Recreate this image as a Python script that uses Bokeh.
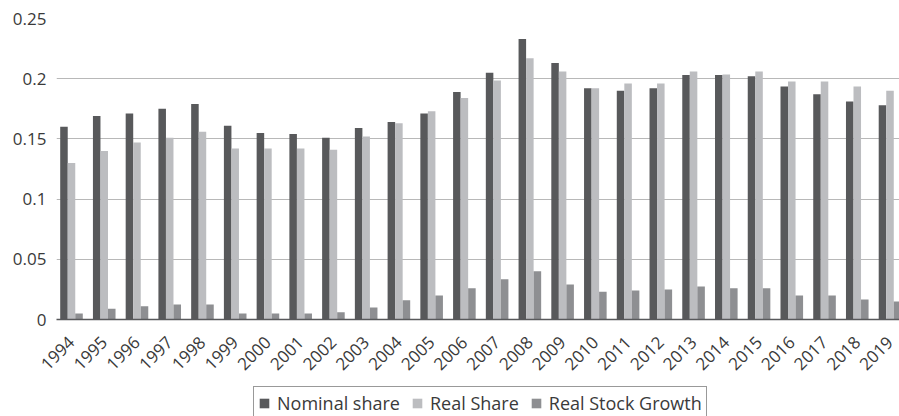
import math
from bokeh.plotting import figure
from bokeh.layouts import column
from bokeh.models import (ColumnDataSource, Range1d, FixedTicker, NumeralTickFormatter,
                          Legend, LegendItem)
from bokeh.transform import dodge
from bokeh.embed import file_html
from bokeh.resources import INLINE

years = [str(y) for y in range(1994, 2020)]
nominal_share = [0.160, 0.169, 0.171, 0.175, 0.179, 0.161, 0.155, 0.154, 0.151, 0.159,
                 0.164, 0.171, 0.189, 0.205, 0.233, 0.213, 0.192, 0.190, 0.192, 0.203,
                 0.203, 0.202, 0.1935, 0.187, 0.181, 0.178]
real_share = [0.130, 0.140, 0.147, 0.151, 0.156, 0.142, 0.142, 0.142, 0.141, 0.152,
              0.163, 0.173, 0.184, 0.1985, 0.217, 0.206, 0.192, 0.196, 0.196, 0.206,
              0.2035, 0.206, 0.1977, 0.1977, 0.1935, 0.190]
real_stock_growth = [0.005, 0.009, 0.011, 0.0125, 0.0125, 0.005, 0.005, 0.005, 0.006, 0.010,
                     0.016, 0.020, 0.026, 0.0335, 0.040, 0.029, 0.023, 0.024, 0.025, 0.0275,
                     0.026, 0.026, 0.020, 0.020, 0.0166, 0.015]
series_names = ["Nominal share", "Real Share", "Real Stock Growth"]
y_ticks = [0, 0.05, 0.1, 0.15, 0.2, 0.25]

FONT = "Open Sans"
TXT = "#3a3a3a"
COLORS = ["#58595b", "#bcbdc0", "#8e8f92"]
COLS = ["nom", "real", "grow"]

idx = list(range(len(years)))
src = ColumnDataSource(dict(x=idx, nom=nominal_share, real=real_share, grow=real_stock_growth))

p = figure(width=899, height=386, output_backend="svg", toolbar_location=None,
           x_range=Range1d(-0.458, 25.29), y_range=Range1d(0, 0.25),
           min_border_left=56, min_border_right=0, min_border_top=18, min_border_bottom=67)
p.outline_line_color = None
p.background_fill_color = "white"
p.border_fill_color = "white"

bw = 0.23
for col, off, c in zip(COLS, [-bw, 0, bw], COLORS):
    p.vbar(x=dodge("x", off, range=p.x_range), top=col, width=bw, source=src,
           fill_color=c, line_color=None)

# axes
p.xaxis.ticker = FixedTicker(ticks=idx)
p.xaxis.major_label_overrides = {i: y for i, y in zip(idx, years)}
p.xaxis.major_label_orientation = math.pi / 4
p.xaxis.major_tick_line_color = None
p.xaxis.major_tick_out = 0
p.xaxis.major_tick_in = 0
p.xaxis.minor_tick_line_color = None
p.xaxis.minor_tick_out = 0
p.xaxis.axis_line_color = COLORS[0]
p.xaxis.axis_line_width = 1.5
p.xaxis.major_label_text_font = FONT
p.xaxis.major_label_text_font_size = "17px"
p.xaxis.major_label_text_color = TXT
p.xaxis.major_label_standoff = 20

p.yaxis.ticker = FixedTicker(ticks=y_ticks)
p.yaxis.formatter = NumeralTickFormatter(format="0.[00]")
p.yaxis.axis_line_color = None
p.yaxis.major_tick_line_color = None
p.yaxis.major_tick_out = 0
p.yaxis.minor_tick_line_color = None
p.yaxis.major_label_text_font = FONT
p.yaxis.major_label_text_font_size = "17px"
p.yaxis.major_label_text_color = TXT
p.yaxis.major_label_standoff = 10

p.xgrid.grid_line_color = None
p.ygrid.ticker = FixedTicker(ticks=y_ticks)
p.ygrid.grid_line_color = "#b8b8b8"
p.ygrid.grid_line_width = 1

# legend strip below the chart (its bars lie far outside its visible range; only the legend shows)
pl = figure(width=899, height=30, output_backend="svg", toolbar_location=None,
            x_range=Range1d(-100, -99), y_range=Range1d(5, 6),
            x_axis_type=None, y_axis_type=None,
            min_border_left=56, min_border_right=0, min_border_top=0, min_border_bottom=0)
pl.outline_line_color = None
pl.xgrid.grid_line_color = None
pl.ygrid.grid_line_color = None
items = []
for name, col, c in zip(series_names, COLS, COLORS):
    r = pl.vbar(x="x", top=col, width=bw, source=src, fill_color=c, line_color=None)
    items.append(LegendItem(label=name, renderers=[r]))

legend = Legend(items=items, orientation="horizontal", location=(197, -4))
legend.label_text_font = FONT
legend.label_text_font_size = "18px"
legend.label_text_color = TXT
legend.label_height = 20
legend.glyph_width = 12
legend.glyph_height = 12
legend.label_standoff = 7
legend.spacing = 11
legend.padding = 4
legend.margin = 0
legend.border_line_color = "#333333"
legend.border_line_width = 1
legend.background_fill_alpha = 1
pl.add_layout(legend)

layout = column(p, pl, spacing=0)
open("out.html", "w").write(file_html(layout, INLINE))
